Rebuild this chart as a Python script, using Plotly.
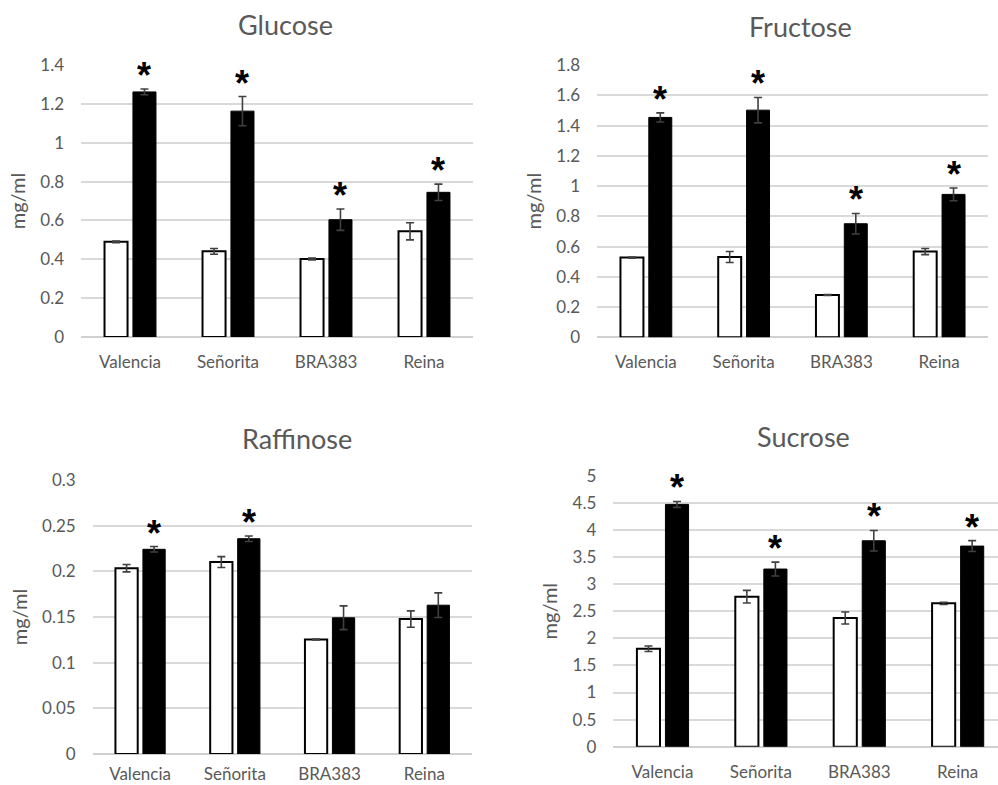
import plotly.graph_objects as go

categories = ["Valencia", "Señorita", "BRA383", "Reina"]

glucose_white = [0.49, 0.441, 0.402, 0.544]
glucose_white_err = [0.004, 0.015, 0.005, 0.044]
glucose_black = [1.262, 1.163, 0.604, 0.745]
glucose_black_err = [0.015, 0.075, 0.055, 0.042]
glucose_sig = [True, True, True, True]

fructose_white = [0.527, 0.531, 0.28, 0.567]
fructose_white_err = [0.004, 0.036, 0.003, 0.02]
fructose_black = [1.454, 1.502, 0.751, 0.945]
fructose_black_err = [0.03, 0.084, 0.068, 0.042]
fructose_sig = [True, True, True, True]

raffinose_white = [0.2035, 0.2102, 0.1255, 0.1478]
raffinose_white_err = [0.004, 0.006, 0.0005, 0.009]
raffinose_black = [0.2242, 0.2358, 0.1492, 0.163]
raffinose_black_err = [0.003, 0.003, 0.013, 0.0135]
raffinose_sig = [True, True, False, False]

sucrose_white = [1.808, 2.768, 2.375, 2.646]
sucrose_white_err = [0.05, 0.117, 0.11, 0.02]
sucrose_black = [4.472, 3.279, 3.801, 3.703]
sucrose_black_err = [0.055, 0.127, 0.19, 0.1]
sucrose_sig = [True, True, True, True]

FONT = "Lato, Calibri, Carlito, 'Open Sans', sans-serif"
GREY = "#595959"

panels = [
    dict(name="Glucose", white=glucose_white, werr=glucose_white_err, black=glucose_black,
         berr=glucose_black_err, sig=glucose_sig, ymax=1.4, dtick=0.2,
         xdom=[81/998, 473/998], ydom=[1-337/785, 1-65/785], xr=[-0.5, 3.5],
         title_xy=(285/998, 1-25/785), xstand=13),
    dict(name="Fructose", white=fructose_white, werr=fructose_white_err, black=fructose_black,
         berr=fructose_black_err, sig=fructose_sig, ymax=1.8, dtick=0.2,
         xdom=[597/998, 988/998], ydom=[1-337.3/785, 1-65/785], xr=[-0.5, 3.5],
         title_xy=(800/998, 1-27/785), xstand=13),
    dict(name="Raffinose", white=raffinose_white, werr=raffinose_white_err, black=raffinose_black,
         berr=raffinose_black_err, sig=raffinose_sig, ymax=0.3, dtick=0.05,
         xdom=[92.7/998, 471.7/998], ydom=[1-754/785, 1-480/785], xr=[-0.5, 3.5],
         title_xy=(297/998, 1-438/785), xstand=8),
    dict(name="Sucrose", white=sucrose_white, werr=sucrose_white_err, black=sucrose_black,
         berr=sucrose_black_err, sig=sucrose_sig, ymax=5, dtick=0.5,
         xdom=[613.3/998, 1.0], ydom=[1-746.7/785, 1-475.7/785], xr=[-0.5, 3.41],
         title_xy=(803/998, 1-436/785), xstand=13),
]

fig = go.Figure()
annotations = []
layout_axes = {}
BAR_W = 0.235
for i, p in enumerate(panels):
    n = "" if i == 0 else str(i + 1)
    xa, ya = "x" + n, "y" + n
    fig.add_trace(go.Bar(
        x=categories, y=p["white"], xaxis=xa, yaxis=ya,
        width=BAR_W, offset=-0.26,
        marker=dict(color="white", line=dict(color="black", width=2)),
        error_y=dict(type="data", array=p["werr"], color="#404040", thickness=1.6, width=4),
        showlegend=False, hoverinfo="skip"))
    fig.add_trace(go.Bar(
        x=categories, y=p["black"], xaxis=xa, yaxis=ya,
        width=BAR_W, offset=0.03,
        marker=dict(color="black", line=dict(color="black", width=1)),
        error_y=dict(type="data", array=p["berr"], color="#404040", thickness=1.6, width=4),
        showlegend=False, hoverinfo="skip"))
    for j, s in enumerate(p["sig"]):
        if s:
            annotations.append(dict(
                x=j + 0.03 + BAR_W / 2, y=p["black"][j] + p["berr"][j],
                xref=xa, yref=ya, text="<b>*</b>", showarrow=False,
                yanchor="bottom", yshift=-9,
                font=dict(family="Arial, Liberation Sans", size=36, color="black")))
    annotations.append(dict(
        x=p["title_xy"][0], y=p["title_xy"][1], xref="paper", yref="paper",
        text=p["name"], showarrow=False, xanchor="center", yanchor="middle",
        font=dict(family=FONT, size=27, color=GREY)))
    layout_axes["xaxis" + n] = dict(
        domain=p["xdom"], anchor=ya, type="category", range=p["xr"], automargin=False,
        showgrid=False, showline=False, zeroline=False, ticks="",
        tickfont=dict(family=FONT, size=17, color=GREY), ticklabelstandoff=p["xstand"])
    layout_axes["yaxis" + n] = dict(
        domain=p["ydom"], anchor=xa, range=[0, p["ymax"] * 1.0004], automargin=False,
        tick0=0, dtick=p["dtick"], showgrid=True, gridcolor="#d9d9d9", gridwidth=1.5,
        zeroline=True, zerolinecolor="#d0d0d0", zerolinewidth=1.5,
        showline=False, ticks="",
        tickfont=dict(family=FONT, size=17, color=GREY), ticklabelstandoff=16,
        title=dict(text="mg/ml", font=dict(family=FONT, size=20, color=GREY), standoff=9))

fig.update_layout(
    width=998, height=785, margin=dict(l=0, r=0, t=0, b=0),
    paper_bgcolor="white", plot_bgcolor="white",
    annotations=annotations, **layout_axes)

fig.write_html(
    "out.html",
    config={"displayModeBar": False},
    post_script="document.body.style.margin='0';document.body.style.padding='0';"
                "document.body.style.overflow='hidden';")
